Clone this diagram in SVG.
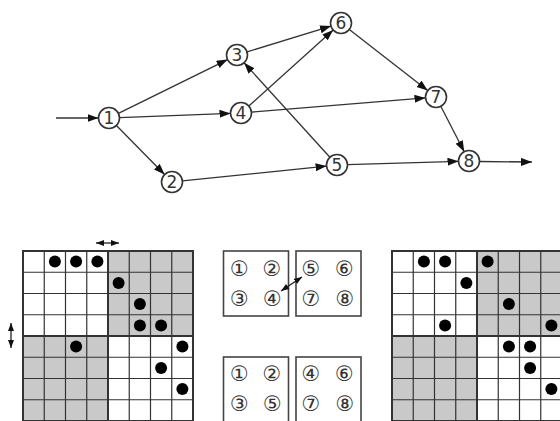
<svg xmlns="http://www.w3.org/2000/svg" width="560" height="421" viewBox="0 0 560 421">
<style>
.node circle{fill:#fff;stroke:#333;stroke-width:1.6}
.node text{font-family:"DejaVu Sans",Verdana,sans-serif;font-size:17px;fill:#333;text-anchor:middle}
.edge{stroke:#333;stroke-width:1.3;fill:none;marker-end:url(#ah)}
.grid{stroke:#333;stroke-width:1.2;fill:none}
.thick{stroke:#333;stroke-width:2;fill:none}
.shade{fill:#c9c9c9}
.dot{fill:#000}
.box{fill:#fff;stroke:#444;stroke-width:1.6}
.cd{font-family:"DejaVu Sans","Noto Sans CJK JP",sans-serif;font-size:21px;fill:#333;text-anchor:middle}
.dbl{stroke:#222;stroke-width:1.3;fill:none;marker-start:url(#ahs);marker-end:url(#ah2)}
</style>
<defs>
<marker id="ah" markerUnits="userSpaceOnUse" markerWidth="12" markerHeight="10" refX="11" refY="4" orient="auto"><path d="M0,0 L11,4 L0,8 z" fill="#111"/></marker>
<marker id="ah2" markerUnits="userSpaceOnUse" markerWidth="10" markerHeight="8" refX="8" refY="3" orient="auto"><path d="M0,0 L8,3 L0,6 z" fill="#111"/></marker>
<marker id="ahs" markerUnits="userSpaceOnUse" markerWidth="10" markerHeight="8" refX="0" refY="3" orient="auto"><path d="M8,0 L0,3 L8,6 z" fill="#111"/></marker>
</defs>
<rect width="560" height="421" fill="#fff"/>
<g id="connectors">
<line class="edge" x1="56" y1="118" x2="98.5" y2="118"/>
<line class="edge" x1="118.4" y1="113.4" x2="227.6" y2="59.6"/>
<line class="edge" x1="119.5" y1="117.6" x2="230.5" y2="113.4"/>
<line class="edge" x1="116.4" y1="125.5" x2="164.6" y2="174.5"/>
<line class="edge" x1="182.4" y1="180.9" x2="326.6" y2="166.1"/>
<line class="edge" x1="247" y1="51.9" x2="331" y2="26.1"/>
<line class="edge" x1="248.8" y1="106" x2="333.2" y2="30"/>
<line class="edge" x1="251.5" y1="112.1" x2="425.5" y2="97.9"/>
<line class="edge" x1="329.9" y1="157.2" x2="244.1" y2="62.8"/>
<line class="edge" x1="347.5" y1="164.7" x2="458.5" y2="161.3"/>
<line class="edge" x1="349.3" y1="29.5" x2="427.7" y2="90.5"/>
<line class="edge" x1="440.8" y1="106.3" x2="464.2" y2="151.7"/>
<line class="edge" x1="479.5" y1="161.5" x2="532" y2="162"/>
</g>
<g id="n1" class="node"><circle cx="109" cy="118" r="10.5"/><text x="109" y="124.2">1</text></g>
<g id="n2" class="node"><circle cx="172" cy="182" r="10.5"/><text x="172" y="188.2">2</text></g>
<g id="n3" class="node"><circle cx="237" cy="55" r="10.5"/><text x="237" y="61.2">3</text></g>
<g id="n4" class="node"><circle cx="241" cy="113" r="10.5"/><text x="241" y="119.2">4</text></g>
<g id="n5" class="node"><circle cx="337" cy="165" r="10.5"/><text x="337" y="171.2">5</text></g>
<g id="n6" class="node"><circle cx="341" cy="23" r="10.5"/><text x="341" y="29.2">6</text></g>
<g id="n7" class="node"><circle cx="436" cy="97" r="10.5"/><text x="436" y="103.2">7</text></g>
<g id="n8" class="node"><circle cx="469" cy="161" r="10.5"/><text x="469" y="167.2">8</text></g>

<g id="matrix-left">
<rect class="shade" x="108" y="251" width="85" height="85"/>
<rect class="shade" x="23" y="336" width="85" height="85"/>
<path class="grid" d="M44.25,251V421M65.5,251V421M86.75,251V421M129.25,251V421M150.5,251V421M171.75,251V421M23,272.25H193M23,293.5H193M23,314.75H193M23,357.25H193M23,378.5H193M23,399.75H193"/>
<path class="thick" d="M108,251V421M23,336H193"/>
<rect class="thick" x="23" y="251" width="170" height="170"/>
<circle class="dot" cx="54.9" cy="261.6" r="6"/><circle class="dot" cx="76.1" cy="261.6" r="6"/><circle class="dot" cx="97.4" cy="261.6" r="6"/>
<circle class="dot" cx="118.6" cy="282.9" r="6"/>
<circle class="dot" cx="139.9" cy="304.1" r="6"/>
<circle class="dot" cx="139.9" cy="325.4" r="6"/><circle class="dot" cx="161.1" cy="325.4" r="6"/>
<circle class="dot" cx="76.1" cy="346.6" r="6"/><circle class="dot" cx="182.4" cy="346.6" r="6"/>
<circle class="dot" cx="161.1" cy="367.9" r="6"/>
<circle class="dot" cx="182.4" cy="389.1" r="6"/>
<line class="dbl" x1="96" y1="243" x2="119" y2="243"/>
<line class="dbl" x1="11" y1="323" x2="11" y2="348"/>
</g>

<g id="matrix-right">
<rect class="shade" x="477" y="251" width="85" height="85"/>
<rect class="shade" x="392" y="336" width="85" height="85"/>
<path class="grid" d="M413.25,251V421M434.5,251V421M455.75,251V421M498.25,251V421M519.5,251V421M540.75,251V421M392,272.25H562M392,293.5H562M392,314.75H562M392,357.25H562M392,378.5H562M392,399.75H562"/>
<path class="thick" d="M477,251V421M392,336H562"/>
<rect class="thick" x="392" y="251" width="170" height="170"/>
<circle class="dot" cx="423.9" cy="261.6" r="6"/><circle class="dot" cx="445.1" cy="261.6" r="6"/><circle class="dot" cx="487.6" cy="261.6" r="6"/>
<circle class="dot" cx="466.4" cy="282.9" r="6"/>
<circle class="dot" cx="508.9" cy="304.1" r="6"/>
<circle class="dot" cx="445.1" cy="325.4" r="6"/><circle class="dot" cx="551.4" cy="325.4" r="6"/>
<circle class="dot" cx="508.9" cy="346.6" r="6"/><circle class="dot" cx="530.1" cy="346.6" r="6"/>
<circle class="dot" cx="530.1" cy="367.9" r="6"/>
<circle class="dot" cx="551.4" cy="389.1" r="6"/>
</g>

<g id="box-a">
<rect class="box" x="223.5" y="251" width="65" height="65"/>
<text class="cd" x="239.5" y="275.5">①</text><text class="cd" x="272" y="275.5">②</text>
<text class="cd" x="239.5" y="306">③</text><text class="cd" x="272.5" y="306">④</text>
</g>
<g id="box-b">
<rect class="box" x="296" y="251" width="65" height="65"/>
<text class="cd" x="311" y="275.5">⑤</text><text class="cd" x="344.5" y="275.5">⑥</text>
<text class="cd" x="311" y="306">⑦</text><text class="cd" x="345" y="306">⑧</text>
</g>
<line class="dbl" x1="281" y1="291" x2="302" y2="277"/>
<g id="box-c">
<rect class="box" x="223.5" y="357" width="65" height="66"/>
<text class="cd" x="239.5" y="381">①</text><text class="cd" x="272" y="381">②</text>
<text class="cd" x="239.5" y="411">③</text><text class="cd" x="272.5" y="411">⑤</text>
</g>
<g id="box-d">
<rect class="box" x="296" y="357" width="65" height="66"/>
<text class="cd" x="311" y="381">④</text><text class="cd" x="344.5" y="381">⑥</text>
<text class="cd" x="311" y="411">⑦</text><text class="cd" x="345" y="411">⑧</text>
</g>
</svg>
